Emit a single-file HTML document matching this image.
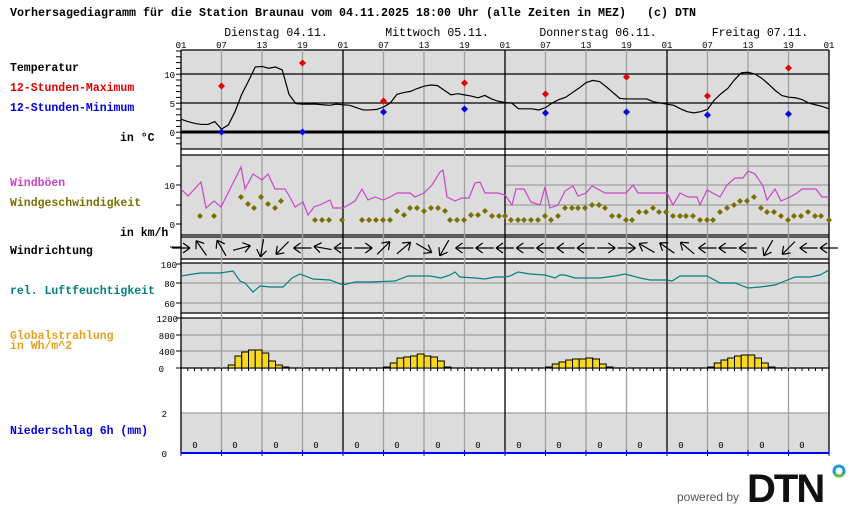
<!DOCTYPE html>
<html><head><meta charset="utf-8"><style>
html,body{margin:0;padding:0;background:#fff;}
svg{display:block;}
text{font-family:"Liberation Mono",monospace;white-space:pre;}
.b{font-weight:bold;font-size:11.5px;}
.t{font-size:9px;}
.d{font-size:11.5px;}
</style></head><body>
<svg id="s" width="850" height="524" viewBox="0 0 850 524" xmlns="http://www.w3.org/2000/svg" xml:space="preserve">
<g id="bg"></g>
<text x="10" y="16" class="b" style="font-size:12px" textLength="686" lengthAdjust="spacingAndGlyphs">Vorhersagediagramm für die Station Braunau vom 04.11.2025 18:00 Uhr (alle Zeiten in MEZ)   (c) DTN</text>
<g class="d" text-anchor="middle">
<text x="276" y="36">Dienstag 04.11.</text>
<text x="437" y="36">Mittwoch 05.11.</text>
<text x="598" y="36">Donnerstag 06.11.</text>
<text x="760" y="36">Freitag 07.11.</text>
</g>
<g class="t" text-anchor="middle">
<text x="181" y="48">01</text><text x="221.5" y="48">07</text><text x="262" y="48">13</text><text x="302.5" y="48">19</text>
<text x="343" y="48">01</text><text x="383.5" y="48">07</text><text x="424" y="48">13</text><text x="464.5" y="48">19</text>
<text x="505" y="48">01</text><text x="545.5" y="48">07</text><text x="586" y="48">13</text><text x="626.5" y="48">19</text>
<text x="667" y="48">01</text><text x="707.5" y="48">07</text><text x="748" y="48">13</text><text x="788.5" y="48">19</text>
<text x="829" y="48">01</text>
</g>
<g class="t" text-anchor="end">
<text x="175" y="78">10</text><text x="175" y="107">5</text><text x="175" y="136">0</text>
<text x="175" y="189">10</text><text x="175" y="228">0</text>
<text x="177" y="268">100</text><text x="175" y="287">80</text><text x="175" y="307">60</text>
<text x="178" y="322">1200</text><text x="175" y="339">800</text><text x="175" y="355">400</text><text x="164" y="372">0</text>
<text x="167" y="417">2</text><text x="167" y="457">0</text>
</g>
<g class="t" text-anchor="middle">
<text x="195" y="448">0</text><text x="235" y="448">0</text><text x="276" y="448">0</text><text x="316" y="448">0</text>
<text x="357" y="448">0</text><text x="397" y="448">0</text><text x="438" y="448">0</text><text x="478" y="448">0</text>
<text x="519" y="448">0</text><text x="559" y="448">0</text><text x="600" y="448">0</text><text x="640" y="448">0</text>
<text x="681" y="448">0</text><text x="721" y="448">0</text><text x="762" y="448">0</text><text x="802" y="448">0</text>
</g>
<g class="b">
<text x="10" y="71" fill="#000">Temperatur</text>
<text x="10" y="91" fill="#e00000">12-Stunden-Maximum</text>
<text x="10" y="111" fill="#0000e0">12-Stunden-Minimum</text>
<text x="120" y="141" fill="#000">in °C</text>
<text x="10" y="186" fill="#c844c8">Windböen</text>
<text x="10" y="206" fill="#7a7000">Windgeschwindigkeit</text>
<text x="120" y="236" fill="#000">in km/h</text>
<text x="10" y="254" fill="#000">Windrichtung</text>
<text x="10" y="294" fill="#008080">rel. Luftfeuchtigkeit</text>
<text x="10" y="339" fill="#e8a020">Globalstrahlung</text>
<text x="10" y="349" fill="#e8a020">in Wh/m^2</text>
<text x="10" y="434" fill="#0000e0">Niederschlag 6h (mm)</text>
</g>
<text x="677" y="501" style="font-family:'Liberation Sans',sans-serif;font-size:12px" fill="#555">powered by</text>
<text x="747" y="502" style="font-family:'Liberation Sans',sans-serif;font-size:40px;font-weight:bold;letter-spacing:-2px" fill="#111">DTN</text>
<circle cx="839" cy="471" r="5" fill="none" stroke="#1a9ad6" stroke-width="3"/>
<path d="M835 474 A5 5 0 0 0 843 474" fill="none" stroke="#6cbf3a" stroke-width="3"/>
</svg>
<script>
var s=document.getElementById('bg');var NS='http://www.w3.org/2000/svg';
function el(n,a){var e=document.createElementNS(NS,n);for(var k in a)e.setAttribute(k,a[k]);s.appendChild(e);return e;}
function ln(x1,y1,x2,y2,c,w){el('line',{x1:x1,y1:y1,x2:x2,y2:y2,stroke:c,'stroke-width':w||1});}
var X0=181,X1=829,H=6.75;
[[50,149],[155,235],[237,259],[263,313],[318,368],[413,453]].forEach(function(p){el('rect',{x:X0,y:p[0],width:X1-X0,height:p[1]-p[0],fill:'#dcdcdc'});});
[50,149,155,235,237,259,263,313,318,368].forEach(function(y){ln(X0,y,X1,y,'#000',1.2);});
ln(X0,413,X1,413,'#a0a0a0',1.2);
[283,303,335,351].forEach(function(y){ln(X0,y,X1,y,'#a0a0a0',1.2);});
[166,185,205,224].forEach(function(y){ln(505,y,X1,y,'#a0a0a0',1.2);});
for(var d=0;d<4;d++){[6,12,18].forEach(function(h){var x=X0+d*162+h*H;ln(x,50,x,453,'#a0a0a0',1.3);});}
for(var d=0;d<=4;d++){var x=X0+d*162;ln(x,50,x,453,'#000',1.3);}
ln(X0,74,X1,74,'#000',1.3);ln(X0,103,X1,103,'#000',1.3);ln(X0,132,X1,132,'#000',3);
for(var y=51;y<149;y+=5.8)ln(176,y,X0,y,'#000',1);
[166,185,205,224].forEach(function(y){ln(176,y,X0,y,'#000',1);});
[264,283,303].forEach(function(y){ln(176,y,X0,y,'#000',1);});
[318,335,351,368].forEach(function(y){ln(176,y,X0,y,'#000',1);});
ln(170,247,X0,247,'#000',1);
for(var i=0;i<=96;i++){var x=X0+i*H;ln(x,368,x,371,'#000',1);}
ln(X0,453,X1,453,'#0000ff',2);
for(var i=0;i<=16;i++){var x=X0+i*40.5;ln(x,450,x,456,'#0000ff',1);}
var T=[2.2,1.8,1.5,1.3,1.3,1.8,0.5,1.2,3.5,6.5,8.8,11.2,11.3,11,11.2,10.7,6.5,4.9,4.8,4.8,4.8,4.7,4.6,4.8,4.7,
4.6,4.2,3.8,3.8,3.9,4.3,5,6.5,6.8,7,7.5,7.9,8.1,8.0,7.2,6.4,6.6,6.4,6.2,5.9,6.3,5.7,5.3,5.1,
5.0,4.0,4.0,4.0,3.8,4.2,5.0,5.6,6.0,6.8,7.6,8.5,8.9,8.7,7.8,6.8,5.8,5.7,5.7,5.7,5.7,5.2,5.0,4.8,
4.6,4.0,3.5,3.3,3.5,3.9,5.5,6.6,7.5,9,10.2,10.3,10.0,9.3,8.3,7.2,6.3,6.0,5.9,5.6,5.0,4.7,4.4,4.0];
el('polyline',{points:T.map(function(t,i){return (X0+i*H)+','+(132-t*5.8);}).join(' '),fill:'none',stroke:'#000','stroke-width':1.2});
function dia(x,y,c,r){el('path',{d:'M'+x+' '+(y-r)+'L'+(x+r)+' '+y+'L'+x+' '+(y+r)+'L'+(x-r)+' '+y+'Z',fill:c});}
[[221.5,86],[302.5,63],[383.5,101],[464.5,83],[545.5,94],[626.5,77],[707.5,96],[788.5,68]].forEach(function(p){dia(p[0],p[1],'#e00000',3.5);});
[[221.5,132],[302.5,132],[383.5,112],[464.5,109],[545.5,113],[626.5,112],[707.5,115],[788.5,114]].forEach(function(p){dia(p[0],p[1],'#0000e0',3.5);});
var G=[[181,189],[188,196],[201,182],[206,208],[214,201],[221,207],[241,167],[245,189],[253,174],[262,180],[268,174],[275,189],[285,189],[291,199],[295,207],[303,202],[308,215],[314,207],[322,204],[330,200],[333,208],[343,208],[355,201],[362,189],[368,200],[375,197],[383,200],[390,197],[397,193],[410,193],[415,197],[424,193],[432,185],[440,172],[443,170],[447,197],[455,201],[462,198],[469,198],[475,183],[480,182],[485,193],[498,193],[505,195],[512,205],[516,189],[524,189],[531,202],[540,205],[545,187],[550,208],[558,205],[565,191],[573,186],[578,196],[586,193],[592,186],[605,193],[626,193],[633,185],[638,193],[667,193],[673,205],[680,193],[688,197],[697,197],[700,205],[707,190],[720,197],[727,185],[735,178],[743,178],[748,171],[755,174],[763,186],[767,200],[775,189],[781,201],[790,197],[797,193],[802,189],[816,189],[822,197],[829,197]];
el('polyline',{points:G.map(function(p){return p.join(',');}).join(' '),fill:'none',stroke:'#cc44cc','stroke-width':1.2});
var W=[[200,216],[214,216],[241,197],[248,204],[254,208],[261,197],[268,204],[275,208],[281,201],[315,220],[322,220],[329,220],[342,220],[362,220],[369,220],[376,220],[383,220],[390,220],[397,211],[404,215],[410,208],[417,208],[424,211],[431,208],[438,208],[445,211],[450,220],[457,220],[464,220],[471,215],[478,215],[485,211],[492,216],[499,216],[505,216],[511,220],[518,220],[524,220],[531,220],[538,220],[545,216],[551,220],[558,216],[565,208],[572,208],[578,208],[585,208],[592,205],[599,205],[605,208],[612,216],[619,216],[626,220],[632,220],[639,212],[646,212],[653,208],[659,212],[666,212],[673,216],[680,216],[686,216],[693,216],[700,220],[707,220],[713,220],[720,212],[727,208],[734,205],[740,201],[747,201],[754,197],[761,208],[767,212],[774,212],[781,216],[788,220],[794,216],[801,216],[808,212],[815,216],[821,216],[829,220]];
W.forEach(function(p){dia(p[0],p[1],'#7a7000',3);});
var U=[[181,276],[200,273],[220,273],[233,271],[240,281],[245,283],[253,292],[260,286],[270,287],[283,287],[292,278],[300,274],[313,279],[330,280],[343,285],[355,282],[370,282],[395,281],[408,276],[430,276],[441,278],[450,275],[455,272],[460,277],[475,278],[485,279],[495,277],[505,277],[510,276],[518,272],[530,274],[545,275],[555,278],[560,275],[565,275],[575,278],[590,278],[600,278],[615,276],[625,274],[640,278],[650,280],[667,280],[672,281],[680,276],[707,276],[720,283],[735,283],[748,288],[760,287],[775,285],[785,281],[795,277],[810,277],[820,275],[829,270]];
el('polyline',{points:U.map(function(p){return p.join(',');}).join(' '),fill:'none',stroke:'#008080','stroke-width':1.2});
var R=[[0,0,0,0,0,0,0,3,12,16,18,18,15,7,3,1],[0,0,0,0,0,0,1,5,10,11,12,14,12,11,7,1],[0,0,0,0,0,0,1,4,6,8,9,9,10,9,4,1],[0,0,0,0,0,0,1,5,8,10,12,13,13,10,5,1]];
R.forEach(function(a,d){a.forEach(function(h,i){if(h>0){el('rect',{x:X0+d*162+i*H,y:368-h,width:H,height:h,fill:'#f8d820',stroke:'#000','stroke-width':1});}});});
var A=[0,-125,-120,-15,100,135,180,-170,180,0,-45,-40,30,120,180,180,180,180,180,180,180,0,0,-150,-145,-140,180,180,180,120,135,180,180];
A.forEach(function(a,i){var cx=X0+i*20.25,cy=248;var g=el('g',{transform:'translate('+cx+','+cy+') rotate('+a+')',stroke:'#000','stroke-width':1.2,fill:'none'});
var p=document.createElementNS(NS,'path');p.setAttribute('d','M-9 0L9 0M9 0L2 -5M9 0L2 5');g.appendChild(p);});
</script>
</body></html>
